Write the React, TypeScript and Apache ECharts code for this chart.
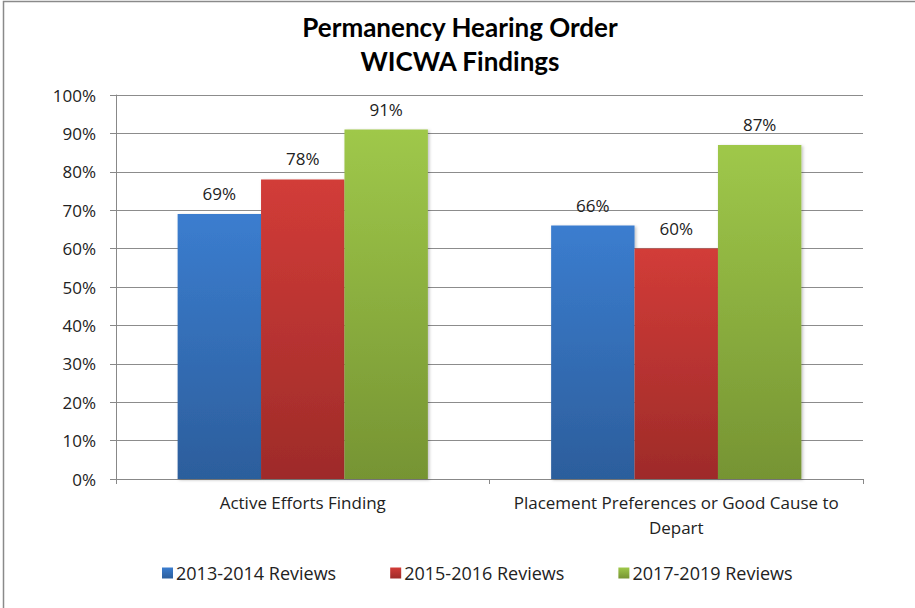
import React, { useEffect, useRef } from "react";
import * as echarts from "echarts";

const categories = ["Active Efforts Finding", "Placement Preferences or Good Cause to\nDepart"];
const seriesNames = ["2013-2014 Reviews", "2015-2016 Reviews", "2017-2019 Reviews"];
const values2013 = [69, 66];
const values2015 = [78, 60];
const values2017 = [91, 87];
const titleText = "Permanency Hearing Order\nWICWA Findings";

const gradients: [string, string][] = [
  ["#3B7DCF", "#2C5E9C"],
  ["#D23C38", "#9E2B29"],
  ["#9FC84A", "#769433"],
];

const FONT = "Open Sans";

export default function App() {
  const ref = useRef<HTMLDivElement>(null);
  useEffect(() => {
    if (!ref.current) return;
    const chart = echarts.init(ref.current, null, { renderer: "svg" });
    const data = [values2013, values2015, values2017];
    chart.setOption({
      animation: false,
      backgroundColor: "#ffffff",
      title: {
        text: titleText,
        left: 455,
        textAlign: "center",
        top: 5,
        textStyle: {
          fontFamily: "Lato",
          fontWeight: "bold",
          fontSize: 26,
          lineHeight: 34,
          color: "#000000",
        },
      },
      graphic: [
        {
          type: "rect",
          shape: { x: 3.5, y: 1.5, width: 1000, height: 1000 },
          style: { fill: "none", stroke: "#8a8a8a", lineWidth: 1.5 },
          silent: true,
        },
      ],
      legend: {
        left: 157,
        top: 559,
        itemWidth: 11,
        itemHeight: 11,
        itemGap: 54,
        icon: "rect",
        textStyle: { fontFamily: FONT, fontSize: 18, color: "#222222", padding: [0, 0, 0, -2] },
        data: seriesNames,
      },
      grid: { left: 116, right: 52, top: 95, bottom: 129 },
      xAxis: {
        type: "category",
        data: categories,
        axisLine: { lineStyle: { color: "#888888", width: 1 } },
        axisTick: { show: true, length: 5, lineStyle: { color: "#888888" } },
        axisLabel: {
          fontFamily: FONT,
          fontSize: 17,
          color: "#222222",
          margin: 11,
          lineHeight: 25,
          interval: 0,
        },
      },
      yAxis: {
        type: "value",
        min: 0,
        max: 100,
        interval: 10,
        axisLine: { show: true, lineStyle: { color: "#888888", width: 1 } },
        axisTick: { show: true, length: 6, lineStyle: { color: "#888888" } },
        splitLine: { lineStyle: { color: "#8c8c8c", width: 1 } },
        axisLabel: {
          formatter: "{value}%",
          fontFamily: FONT,
          fontSize: 17,
          color: "#222222",
          margin: 20,
        },
      },
      series: seriesNames.map((name, i) => ({
        name,
        type: "bar",
        data: data[i],
        barGap: "0%",
        barCategoryGap: "33%",
        itemStyle: {
          color: new echarts.graphic.LinearGradient(0, 0, 0, 1, [
            { offset: 0, color: gradients[i][0] },
            { offset: 1, color: gradients[i][1] },
          ]),
          shadowBlur: 3,
          shadowColor: "rgba(0,0,0,0.25)",
          shadowOffsetX: 1.5,
          shadowOffsetY: 1,
        },
        label: {
          show: true,
          position: "top",
          distance: 12,
          formatter: "{c}%",
          fontFamily: FONT,
          fontSize: 17,
          color: "#222222",
        },
      })),
    });
    return () => chart.dispose();
  }, []);
  return (
    <div
      ref={ref}
      style={{ position: "fixed", left: 0, top: 0, width: 915, height: 608 }}
    />
  );
}
